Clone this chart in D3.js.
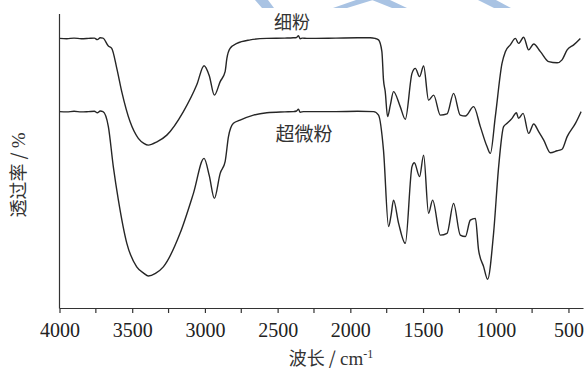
<!DOCTYPE html>
<html>
<head>
<meta charset="utf-8">
<script src="https://cdn.jsdelivr.net/npm/d3@7"></script>
<style>
  html, body { margin: 0; padding: 0; background: #fff; }
  svg { display: block; }
</style>
</head>
<body>
<svg id="chart" width="587" height="370"></svg>
<script>
// FTIR transmittance spectra: wavenumber (cm^-1) and transmittance (arbitrary %)
const fineWave = [4000, 3950, 3900, 3850, 3800, 3760, 3740, 3720, 3701, 3664, 3641, 3606, 3572, 3515, 3458, 3420, 3389, 3330, 3262, 3148, 3056, 3006, 2970, 2935, 2895, 2861, 2849, 2827, 2780, 2689, 2574, 2450, 2393, 2370, 2357, 2345, 2330, 2299, 2100, 1950, 1863, 1830, 1806, 1783, 1772, 1760, 1744, 1725, 1703, 1657, 1622, 1576, 1553, 1524, 1496, 1462, 1427, 1381, 1335, 1290, 1244, 1209, 1152, 1106, 1060, 1037, 1003, 957, 934, 900, 865, 843, 808, 774, 739, 693, 636, 578, 544, 509, 464, 418];
const fineT    = [91.7, 91.6, 91.8, 91.6, 91.7, 91.8, 91.3, 91.9, 91.8, 89.1, 88.3, 81.5, 73.6, 63.4, 57.7, 56.0, 55.4, 56.5, 58.8, 66.8, 75.9, 82.4, 79.0, 72.4, 77.0, 80.4, 84.9, 88.3, 90.0, 91.2, 91.7, 91.8, 91.9, 92.0, 92.6, 91.6, 91.8, 91.7, 91.8, 91.9, 91.9, 91.7, 91.2, 87.2, 77.6, 73.6, 65.1, 69.0, 73.6, 68.5, 64.2, 79.8, 81.5, 78.7, 82.3, 70.7, 72.4, 65.6, 66.0, 73.0, 65.6, 65.3, 68.5, 61.7, 54.9, 52.6, 65.1, 83.2, 87.2, 89.5, 91.7, 90.0, 92.1, 87.8, 89.8, 87.2, 83.8, 83.4, 84.4, 87.8, 89.5, 91.7];

const ultraWave = [4000, 3950, 3900, 3850, 3800, 3760, 3740, 3720, 3701, 3664, 3630, 3595, 3537, 3469, 3420, 3389, 3340, 3286, 3171, 3079, 3006, 2970, 2935, 2895, 2861, 2838, 2804, 2758, 2666, 2574, 2450, 2391, 2370, 2357, 2345, 2322, 2100, 1950, 1840, 1806, 1772, 1737, 1720, 1703, 1668, 1622, 1576, 1560, 1524, 1496, 1462, 1434, 1381, 1335, 1290, 1244, 1209, 1175, 1140, 1118, 1083, 1056, 1015, 980, 946, 922, 888, 858, 843, 812, 774, 739, 705, 670, 624, 578, 544, 509, 452, 413];
const ultraT    = [66.8, 66.7, 66.9, 66.7, 66.8, 66.9, 66.4, 67.0, 66.8, 61.7, 48.1, 36.7, 22.0, 14.0, 11.8, 10.9, 11.8, 14.0, 25.4, 39.0, 50.9, 45.0, 37.3, 45.8, 49.8, 58.3, 62.8, 63.9, 65.6, 66.4, 66.7, 66.8, 67.0, 67.6, 66.6, 66.8, 66.8, 66.9, 66.8, 65.6, 53.7, 27.7, 31.5, 36.7, 28.8, 22.0, 48.1, 49.4, 44.7, 52.0, 32.2, 36.7, 24.8, 25.4, 35.6, 24.8, 24.3, 29.9, 30.5, 19.7, 14.0, 9.8, 25.4, 48.1, 61.7, 62.8, 64.5, 66.4, 64.5, 66.2, 59.4, 62.6, 60.0, 57.1, 52.8, 53.5, 54.0, 58.3, 62.8, 66.8];

const xTicks = [4000, 3500, 3000, 2500, 2000, 1500, 1000, 500];
const xMinorTicks = [3750, 3250, 2750, 2250, 1750, 1250, 750];
const seriesNames = ["细粉", "超微粉"];

const SERIF = "'Liberation Serif', 'Times New Roman', serif";
const CJK = "'Noto Sans CJK SC', sans-serif";

const svg = d3.select("#chart");

// faint logo shapes along the top edge
const logo = [
  [[255, 0], [268, 0], [274, 8], [262, 8]],
  [[333, 8], [347, 8], [373, 0], [356, 0]],
  [[372, 0], [390, 0], [407, 8], [392, 8]],
  [[478, 0], [496, 0], [511, 8], [494, 8]]
];
svg.append("g").selectAll("polygon").data(logo).join("polygon")
  .attr("points", d => d.map(p => p.join(",")).join(" "))
  .attr("fill", "#a9c3e3");

const x = d3.scaleLinear().domain([4000, 400]).range([59.5, 583]);
const y = d3.scaleLinear().domain([0, 100]).range([308, 14]);

const line = d3.line()
  .x(d => x(d[0]))
  .y(d => y(d[1]))
  .curve(d3.curveMonotoneX);

const series = [
  d3.zip(fineWave, fineT),
  d3.zip(ultraWave, ultraT)
];

svg.append("g").selectAll("path").data(series).join("path")
  .attr("d", line)
  .attr("fill", "none")
  .attr("stroke", "#262626")
  .attr("stroke-width", 1.4)
  .attr("stroke-linejoin", "round");

// axes
const xAxis = d3.axisBottom(x).tickValues(xTicks).tickSize(5).tickSizeOuter(0).tickFormat(d3.format("d"));
const gx = svg.append("g").attr("transform", `translate(0,308)`).call(xAxis)
  .attr("font-family", SERIF).attr("font-size", 20);
gx.select(".domain").attr("stroke", "#333").attr("stroke-width", 1.2);
gx.selectAll(".tick line").attr("stroke", "#333").attr("stroke-width", 1.2);
gx.selectAll(".tick text")
  .style("font-family", SERIF)
  .style("font-size", "20px")
  .attr("fill", "#222")
  .attr("y", 0)
  .attr("dy", "29px");

gx.append("g").selectAll("line").data(xMinorTicks).join("line")
  .attr("x1", d => x(d)).attr("x2", d => x(d))
  .attr("y1", 0).attr("y2", 5)
  .attr("stroke", "#333").attr("stroke-width", 1.2);

svg.append("line")
  .attr("x1", 59.5).attr("x2", 59.5).attr("y1", 14).attr("y2", 308.6)
  .attr("stroke", "#333").attr("stroke-width", 1.2);

// series labels
svg.append("text").attr("x", 292).attr("y", 29).attr("text-anchor", "middle")
  .style("font-family", CJK).style("font-size", "18px").attr("fill", "#333").text(seriesNames[0]);
svg.append("text").attr("x", 304).attr("y", 141).attr("text-anchor", "middle")
  .style("font-family", CJK).style("font-size", "19px").attr("fill", "#333").text(seriesNames[1]);

// axis titles
const xt = svg.append("text").attr("x", 331).attr("y", 365).attr("text-anchor", "middle").attr("fill", "#333");
xt.append("tspan").style("font-family", CJK).style("font-size", "18px").text("波长 / ");
xt.append("tspan").style("font-family", SERIF).style("font-size", "19px").text("cm");
xt.append("tspan").style("font-family", SERIF).style("font-size", "12px").attr("dy", -7).text("-1");

const yt = svg.append("text").attr("transform", "translate(25,175) rotate(-90)")
  .attr("text-anchor", "middle").attr("fill", "#333");
yt.append("tspan").style("font-family", CJK).style("font-size", "18px").text("透过率 / ");
yt.append("tspan").style("font-family", SERIF).style("font-size", "19px").text("%");
</script>
</body>
</html>
